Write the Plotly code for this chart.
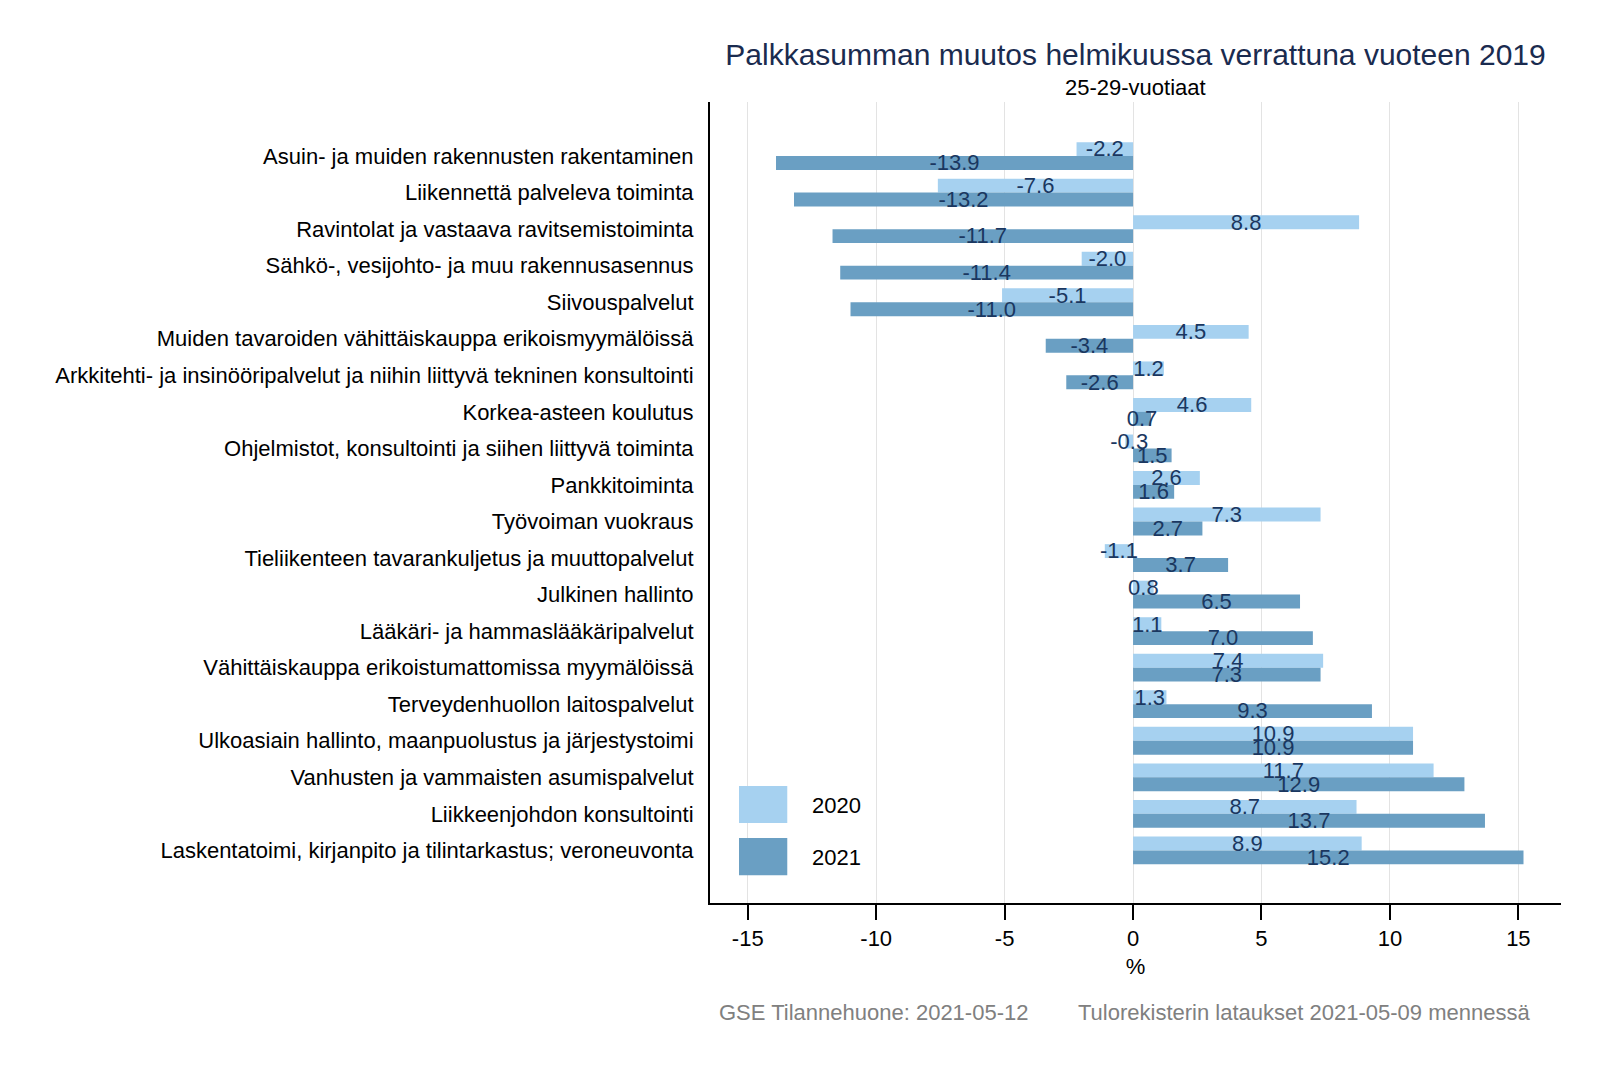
import plotly.graph_objects as go

categories = [
    "Asuin- ja muiden rakennusten rakentaminen",
    "Liikennettä palveleva toiminta",
    "Ravintolat ja vastaava ravitsemistoiminta",
    "Sähkö-, vesijohto- ja muu rakennusasennus",
    "Siivouspalvelut",
    "Muiden tavaroiden vähittäiskauppa erikoismyymälöissä",
    "Arkkitehti- ja insinööripalvelut ja niihin liittyvä tekninen konsultointi",
    "Korkea-asteen koulutus",
    "Ohjelmistot, konsultointi ja siihen liittyvä toiminta",
    "Pankkitoiminta",
    "Työvoiman vuokraus",
    "Tieliikenteen tavarankuljetus ja muuttopalvelut",
    "Julkinen hallinto",
    "Lääkäri- ja hammaslääkäripalvelut",
    "Vähittäiskauppa erikoistumattomissa myymälöissä",
    "Terveydenhuollon laitospalvelut",
    "Ulkoasiain hallinto, maanpuolustus ja järjestystoimi",
    "Vanhusten ja vammaisten asumispalvelut",
    "Liikkeenjohdon konsultointi",
    "Laskentatoimi, kirjanpito ja tilintarkastus; veroneuvonta",
]
values_2020 = [-2.2, -7.6, 8.8, -2.0, -5.1, 4.5, 1.2, 4.6, -0.3, 2.6, 7.3, -1.1, 0.8, 1.1, 7.4, 1.3, 10.9, 11.7, 8.7, 8.9]
values_2021 = [-13.9, -13.2, -11.7, -11.4, -11.0, -3.4, -2.6, 0.7, 1.5, 1.6, 2.7, 3.7, 6.5, 7.0, 7.3, 9.3, 10.9, 12.9, 13.7, 15.2]
series_names = ["2020", "2021"]
x_ticks = [-15, -10, -5, 0, 5, 10, 15]

FONT = "Liberation Sans, Arial, sans-serif"
c_light = "#a6d1f0"
c_dark = "#6a9fc3"
txt_col = "#1a3760"
bw = 0.38
text_shift = 0.05
idx = list(range(len(categories)))
y20 = [i - bw / 2 for i in idx]
y21 = [i + bw / 2 for i in idx]

fig = go.Figure()
fig.add_trace(go.Bar(x=values_2020, y=y20, orientation="h", width=bw,
                     marker=dict(color=c_light, line=dict(width=0)),
                     name=series_names[0], showlegend=False, hoverinfo="skip"))
fig.add_trace(go.Bar(x=values_2021, y=y21, orientation="h", width=bw,
                     marker=dict(color=c_dark, line=dict(width=0)),
                     name=series_names[1], showlegend=False, hoverinfo="skip"))

for vals, ys in ((values_2020, y20), (values_2021, y21)):
    fig.add_trace(go.Scatter(
        x=[v / 2 for v in vals], y=[y + text_shift for y in ys], mode="text",
        text=[f"{v:.1f}" for v in vals],
        textfont=dict(size=22, color=txt_col, family=FONT),
        textposition="middle center", showlegend=False, hoverinfo="skip", cliponaxis=False,
    ))

fig.update_layout(
    width=1600, height=1067,
    paper_bgcolor="white", plot_bgcolor="white",
    barmode="overlay",
    margin=dict(l=702, r=47, t=94, b=172),
    font=dict(family=FONT, size=22, color="black"),
    title=dict(
        text="Palkkasumman muutos helmikuussa verrattuna vuoteen 2019",
        xref="paper", x=0.5, xanchor="center",
        yref="container", y=1 - 46 / 1067, yanchor="middle",
        font=dict(size=30, color="#1a2b4f"),
    ),
    xaxis=dict(
        range=[-16.47, 16.66], tickvals=x_ticks, ticktext=[str(t) for t in x_ticks],
        showgrid=True, gridcolor="#e3e3e3", gridwidth=1, zeroline=False,
        showline=True, linecolor="black", linewidth=2,
        ticks="outside", ticklen=15, tickwidth=2, tickcolor="black",
        tickfont=dict(size=22, color="black"),
        title=dict(text="%", font=dict(size=22, color="black"), standoff=8),
    ),
    yaxis=dict(
        range=[len(categories) - 1 + 1.44, -1.48],
        tickvals=idx, ticktext=categories,
        showgrid=False, zeroline=False,
        showline=True, linecolor="black", linewidth=2,
        ticks="", ticklabelstandoff=10,
        tickfont=dict(size=22, color="black"),
    ),
)

fig.add_annotation(xref="paper", yref="paper", x=0.5, y=1.0177, xanchor="center", yanchor="middle",
                   text="25-29-vuotiaat", showarrow=False, font=dict(size=22, color="black"))

# legend drawn as boxes + labels in the lower-left of the plot area
leg = [(series_names[0], c_light, 0.0999, 0.1461, 0.122),
       (series_names[1], c_dark, 0.0346, 0.0812, 0.0574)]
for name, col, y0, y1, yt in leg:
    fig.add_shape(type="rect", xref="paper", yref="paper",
                  x0=0.0341, x1=0.0908, y0=y0, y1=y1,
                  fillcolor=col, line=dict(width=0))
    fig.add_annotation(xref="paper", yref="paper", x=0.1175, y=yt, text=name,
                       showarrow=False, xanchor="left", yanchor="middle",
                       font=dict(size=22, color="black"))

fig.add_annotation(xref="paper", yref="paper", x=0.0086, y=-0.1365, yanchor="middle", xanchor="left",
                   text="GSE Tilannehuone: 2021-05-12", showarrow=False,
                   font=dict(size=22, color="#808080"))
fig.add_annotation(xref="paper", yref="paper", x=0.9655, y=-0.1365, yanchor="middle", xanchor="right",
                   text="Tulorekisterin lataukset 2021-05-09 mennessä", showarrow=False,
                   font=dict(size=22, color="#808080"))

fig.write_html("out.html")
